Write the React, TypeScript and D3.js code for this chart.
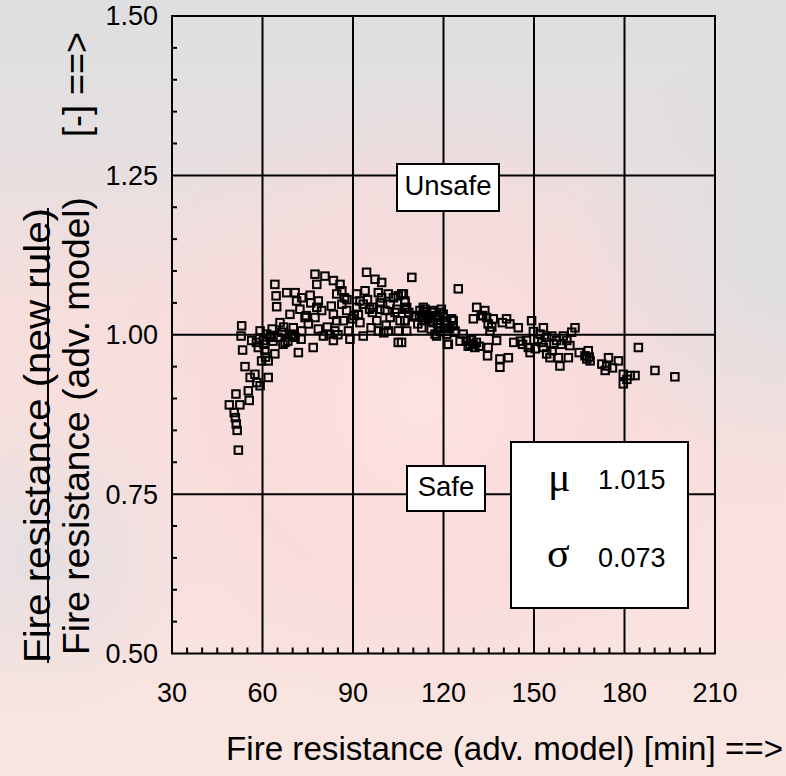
import React from "react";
import * as d3 from "d3";

const xTicks = [30, 60, 90, 120, 150, 180, 210];
const yTicks = [0.5, 0.75, 1.0, 1.25, 1.5];
const xTickLabels = ["30", "60", "90", "120", "150", "180", "210"];
const yTickLabels = ["0.50", "0.75", "1.00", "1.25", "1.50"];

// Fire resistance (adv. model) [min]
const fireAdv = [
  52.0, 51.2, 49.0, 52.5, 51.0, 51.3, 51.6, 50.6, 55.3, 55.6, 54.2, 55.9, 57.5, 58.1, 59.2, 61.9,
  53.1, 52.9, 53.4, 56.4, 59.2, 60.3, 58.6, 61.4, 60.8, 59.7, 61.9, 64.1, 64.1, 64.5, 64.7, 65.8,
  66.4, 67.5, 68.0, 70.8, 71.3, 73.0, 69.1, 70.2, 70.8, 71.9, 72.4, 74.1, 75.2, 73.0, 76.8, 77.4,
  78.0, 80.7, 78.5, 78.0, 79.6, 77.4, 78.5, 83.5, 85.7, 86.3, 84.6, 83.5, 84.6, 84.0, 83.5, 86.8,
  86.3, 87.9, 88.5, 89.0, 91.2, 92.3, 91.2, 93.4, 92.3, 93.4, 94.0, 94.5, 97.3, 99.5, 98.4, 99.5,
  96.7, 98.9, 97.9, 98.4, 101.7, 102.3, 100.6, 102.3, 103.4, 105.0, 106.1, 107.2, 107.8, 105.6, 107.2, 105.0,
  107.8, 101.7, 105.0, 109.5, 112.2, 113.3, 114.4, 113.3, 112.8, 115.5, 116.6, 117.7, 118.3, 117.2, 119.9, 120.5,
  121.1, 121.3, 123.2, 123.8, 124.9, 106.7, 107.2, 107.2, 107.2, 106.1, 113.9, 112.8, 116.1, 117.7, 118.8, 119.9,
  116.6, 118.3, 121.1, 122.7, 123.2, 123.8, 121.1, 117.7, 121.6, 129.3, 129.8, 130.4, 128.8, 131.0, 129.9, 133.7,
  134.3, 136.5, 134.8, 135.4, 137.6, 134.8, 134.6, 138.7, 138.7, 141.5, 140.9, 142.0, 144.8, 149.2, 153.1, 152.0,
  154.2, 155.9, 157.5, 159.7, 160.9, 161.9, 147.5, 148.1, 148.7, 153.1, 154.2, 155.3, 158.1, 158.6, 161.4, 163.6,
  168.0, 168.6, 167.5, 174.7, 174.1, 173.6, 178.0, 179.6, 179.6, 181.9, 183.5, 184.6, 190.1, 196.7,
  62.5, 63.2, 66.8, 69.5, 72.8, 75.8, 80.2, 82.1, 88.0, 90.4, 95.5, 96.0, 100.2, 103.9, 110.8, 111.5,
  114.8, 115.9, 119.3, 126.5, 128.2, 130.9, 132.5, 139.5, 143.3, 146.2, 150.4, 151.3, 156.6, 162.5, 166.9, 172.5,
  58.0, 59.0, 60.5, 61.0, 62.8, 63.5, 65.2, 67.0, 68.4, 70.0, 74.5, 76.0, 81.5, 82.8, 85.0, 87.2,
  89.8, 91.8, 94.8, 96.4, 99.0, 101.0, 104.5, 108.5, 110.2, 112.0, 113.6, 115.0, 116.4, 118.0, 119.0, 120.2,
  122.0, 125.5, 127.5, 129.0, 131.8, 133.0, 136.0, 145.5, 149.8, 152.6, 156.0, 159.0, 165.0, 168.3, 176.0, 180.8
];

// Fire resistance (new rule) / Fire resistance (adv. model) [-]
const ratio = [
  0.819, 0.907, 0.890, 0.890, 0.870, 0.860, 0.850, 0.878, 0.912, 0.897, 0.950, 0.933, 0.938, 0.925, 0.920, 0.933,
  1.014, 0.998, 0.976, 0.991, 1.006, 0.991, 0.980, 1.001, 0.975, 0.959, 0.959, 0.970, 1.079, 1.061, 1.044, 1.019,
  1.004, 0.988, 1.066, 1.066, 1.053, 1.058, 1.032, 1.011, 0.996, 0.972, 1.040, 1.027, 1.017, 1.006, 0.980, 1.095,
  1.079, 1.092, 1.053, 1.043, 1.038, 1.027, 1.009, 1.085, 1.079, 1.069, 1.064, 1.032, 1.022, 1.006, 0.991, 1.022,
  1.048, 1.038, 1.006, 0.993, 1.064, 1.053, 1.043, 1.048, 1.019, 0.998, 1.069, 1.098, 1.087, 1.082, 1.066, 1.058,
  1.043, 1.040, 1.022, 1.006, 1.064, 1.048, 1.038, 1.027, 1.058, 1.061, 1.064, 1.053, 1.043, 1.022, 1.022, 1.006,
  1.006, 1.006, 0.988, 1.090, 1.038, 1.043, 1.032, 1.022, 1.011, 1.027, 1.038, 1.027, 1.011, 1.001, 1.032, 1.022,
  1.006, 0.985, 1.022, 1.006, 1.072, 1.064, 1.051, 1.040, 1.022, 0.988, 1.040, 1.027, 1.035, 1.030, 1.035, 1.027,
  1.019, 1.011, 1.019, 1.025, 1.014, 1.004, 1.001, 0.998, 0.985, 0.993, 0.985, 0.980, 0.985, 1.043, 1.025, 1.038,
  1.027, 1.025, 1.017, 1.006, 0.991, 0.980, 0.967, 0.962, 0.949, 0.964, 1.025, 1.017, 1.011, 1.022, 1.011, 1.001,
  0.996, 0.998, 0.991, 0.998, 0.991, 0.983, 0.991, 0.980, 0.972, 0.980, 0.970, 0.964, 0.964, 0.951, 0.964, 1.011,
  0.975, 0.959, 0.962, 0.964, 0.951, 0.944, 0.959, 0.938, 0.923, 0.936, 0.936, 0.980, 0.944, 0.934,
  0.996, 1.009, 0.985, 1.001, 0.993, 1.062, 0.998, 1.001, 1.055, 1.030, 1.040, 1.011, 1.003, 1.035, 1.030, 1.017,
  1.030, 1.009, 1.040, 1.001, 0.982, 0.988, 1.030, 1.019, 0.988, 0.985, 0.978, 0.993, 0.985, 1.004, 0.967, 0.954,
  0.988, 0.995, 0.985, 0.965, 0.999, 0.990, 0.996, 1.012, 0.990, 0.998, 1.030, 1.050, 1.012, 1.045, 1.000, 1.058,
  1.025, 1.032, 1.055, 1.035, 1.050, 1.015, 1.040, 1.035, 1.028, 1.030, 1.036, 1.025, 1.020, 1.018, 1.005, 1.010,
  1.010, 0.990, 0.990, 0.992, 0.982, 1.030, 1.012, 0.990, 1.005, 0.988, 0.975, 0.985, 0.972, 0.965, 0.948, 0.930
];

const W = 786;
const H = 776;
const left = 172, right = 715, top = 16, bottom = 653.5;

export default function App() {
  const x = d3.scaleLinear().domain([30, 210]).range([left, right]);
  const y = d3.scaleLinear().domain([0.5, 1.5]).range([bottom, top]);
  const xMinor = d3.range(35, 210, 5).filter((v) => v % 30 !== 0);
  const yMinor = d3.range(0.55, 1.5, 0.05).filter((v) => Math.abs(v / 0.25 - Math.round(v / 0.25)) > 1e-6);
  const pts = fireAdv.map((v, i) => [v, ratio[i]]);
  const font = "'Liberation Sans', Arial, sans-serif";
  const ms = 7.5;

  return (
    <svg width={W} height={H} style={{ position: "absolute", left: 0, top: 0 }} fontFamily={font}>
      <defs>
        <linearGradient id="bg" x1="0" y1="0" x2="0" y2="1">
          <stop offset="0" stopColor="#dedfe0" />
          <stop offset="0.18" stopColor="#e5dfe0" />
          <stop offset="0.4" stopColor="#f6dedd" />
          <stop offset="0.75" stopColor="#f9e1de" />
          <stop offset="1" stopColor="#f8e6e1" />
        </linearGradient>
        <radialGradient id="glow" cx="420" cy="400" r="320" gradientUnits="userSpaceOnUse">
          <stop offset="0" stopColor="#fde3e1" stopOpacity="0.9" />
          <stop offset="0.6" stopColor="#f9dada" stopOpacity="0.6" />
          <stop offset="1" stopColor="#f9dada" stopOpacity="0" />
        </radialGradient>
        <radialGradient id="grayR" cx="790" cy="260" r="220" gradientUnits="userSpaceOnUse">
          <stop offset="0" stopColor="#dcdee0" stopOpacity="1" />
          <stop offset="1" stopColor="#dcdee0" stopOpacity="0" />
        </radialGradient>
        <radialGradient id="grayL" cx="40" cy="560" r="160" gradientUnits="userSpaceOnUse">
          <stop offset="0" stopColor="#e2dfe2" stopOpacity="0.9" />
          <stop offset="1" stopColor="#e2dfe2" stopOpacity="0" />
        </radialGradient>
      </defs>
      <rect x={0} y={0} width={W} height={H} fill="url(#bg)" />
      <rect x={0} y={0} width={W} height={H} fill="url(#glow)" />
      <rect x={0} y={0} width={W} height={H} fill="url(#grayR)" />
      <rect x={0} y={0} width={W} height={H} fill="url(#grayL)" />

      {/* grid */}
      {xTicks.slice(1, -1).map((t) => (
        <line key={"gx" + t} x1={x(t)} x2={x(t)} y1={top} y2={bottom} stroke="#000" strokeWidth={2} />
      ))}
      {yTicks.slice(1, -1).map((t) => (
        <line key={"gy" + t} x1={left} x2={right} y1={y(t)} y2={y(t)} stroke="#000" strokeWidth={2} />
      ))}
      {/* minor ticks */}
      {xMinor.map((t) => (
        <line key={"mx" + t} x1={x(t)} x2={x(t)} y1={bottom} y2={bottom - 6} stroke="#000" strokeWidth={2} />
      ))}
      {yMinor.map((t) => (
        <line key={"my" + t} x1={left} x2={left + 5} y1={y(t)} y2={y(t)} stroke="#000" strokeWidth={2} />
      ))}
      <rect x={left} y={top} width={right - left} height={bottom - top} fill="none" stroke="#000" strokeWidth={2} />

      {/* points */}
      {pts.map(([a, b], i) => (
        <rect key={i} x={x(a) - ms / 2} y={y(b) - ms / 2} width={ms} height={ms} fill="none" stroke="#000" strokeWidth={2} />
      ))}

      {/* tick labels */}
      {yTicks.map((t, i) => (
        <text key={"yl" + t} x={158} y={y(t)} dy="0.35em" textAnchor="end" fontSize={27} fill="#000">
          {yTickLabels[i]}
        </text>
      ))}
      {xTicks.map((t, i) => (
        <text key={"xl" + t} x={x(t)} y={693} dy="0.35em" textAnchor="middle" fontSize={27} fill="#000">
          {xTickLabels[i]}
        </text>
      ))}

      {/* Unsafe / Safe boxes */}
      <rect x={397} y={164} width={102} height={47} fill="#fff" stroke="#000" strokeWidth={2} />
      <text x={448} y={195} textAnchor="middle" fontSize={27.5}>Unsafe</text>
      <rect x={407} y={466} width={78} height={45} fill="#fff" stroke="#000" strokeWidth={2} />
      <text x={446} y={496} textAnchor="middle" fontSize={27.5}>Safe</text>

      {/* stats box */}
      <rect x={511} y={442} width={177} height={166} fill="#fff" stroke="#000" strokeWidth={2} />
      <text x={548} y={491} fontSize={42} fontFamily="'Liberation Serif', 'DejaVu Serif', serif">μ</text>
      <text x={598} y={489} fontSize={27}>1.015</text>
      <text x={547} y={567} fontSize={42} fontFamily="'Liberation Serif', 'DejaVu Serif', serif">σ</text>
      <text x={598} y={567} fontSize={27}>0.073</text>

      {/* axis titles */}
      <text x={226} y={760} fontSize={33} textLength={557} lengthAdjust="spacingAndGlyphs">
        Fire resistance (adv. model) [min] ==&gt;
      </text>
      <text transform="translate(50,663) rotate(-90)" fontSize={36} textLength={455} lengthAdjust="spacingAndGlyphs">
        Fire resistance (new rule)
      </text>
      <line x1={48} x2={48} y1={208} y2={663} stroke="#000" strokeWidth={2} />
      <text transform="translate(89,655) rotate(-90)" fontSize={36} textLength={458} lengthAdjust="spacingAndGlyphs">
        Fire resistance (adv. model)
      </text>
      <text transform="translate(89,137) rotate(-90)" fontSize={36} textLength={105} lengthAdjust="spacingAndGlyphs">
        [-] ==&gt;
      </text>
    </svg>
  );
}
